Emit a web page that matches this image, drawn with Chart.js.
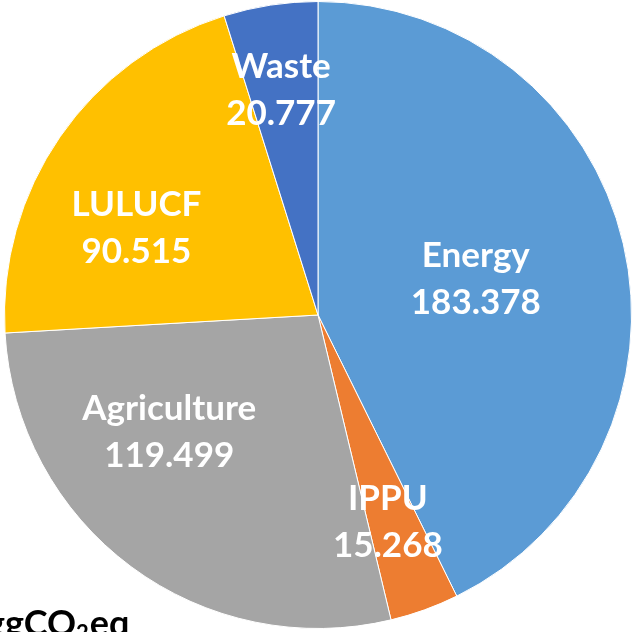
<!DOCTYPE html>
<html lang="en">
<head>
    <meta charset="UTF-8">
    <title>GHG emissions by sector</title>
    <script src="https://cdn.jsdelivr.net/npm/chart.js"></script>
    <style>
        html, body { margin: 0; padding: 0; background: #fff; overflow: hidden; }
        #wrap { position: relative; width: 635px; height: 632px; }
    </style>
</head>
<body>
    <div id="wrap"><canvas id="myChart" width="635" height="632"></canvas></div>

    <script>
        // Data (ggCO2eq)
        const sectors = ['Energy', 'IPPU', 'Agriculture', 'LULUCF', 'Waste'];
        const emissions = [183.378, 15.268, 119.499, 90.515, 20.777];
        const sliceColors = ['#5B9BD5', '#ED7D31', '#A5A5A5', '#FFC000', '#4472C4'];

        // where each label sits inside its slice: share of the slice angle, share of the radius
        const labelAngle = [0.50, 0.59, 0.654, 0.385, 0.466];
        const labelRadius = [0.517, 0.694, 0.602, 0.644, 0.729];

        const FONT = 'bold 35px Lato, "Open Sans", sans-serif';

        const sliceLabels = {
            id: 'sliceLabels',
            afterDatasetsDraw(chart) {
                const ctx = chart.ctx;
                const arcs = chart.getDatasetMeta(0).data;
                ctx.save();
                ctx.fillStyle = '#fff';
                ctx.font = FONT;
                ctx.textAlign = 'center';
                ctx.textBaseline = 'alphabetic';
                arcs.forEach((arc, i) => {
                    const a = arc.startAngle + (arc.endAngle - arc.startAngle) * labelAngle[i];
                    const r = arc.outerRadius * labelRadius[i];
                    const x = arc.x + Math.cos(a) * r;
                    const y = arc.y + Math.sin(a) * r;
                    ctx.fillText(sectors[i], x, y - 11);
                    ctx.fillText(emissions[i].toFixed(3), x, y + 36);
                });

                // unit caption, bottom left (partly off the page as in the original)
                ctx.fillStyle = '#000';
                ctx.textAlign = 'left';
                ctx.font = 'bold 36px Lato, "Open Sans", sans-serif';
                let x = -14;
                const base = 636;
                ctx.fillText('ggCO', x, base);
                x += ctx.measureText('ggCO').width;
                ctx.font = 'bold 22px Lato, "Open Sans", sans-serif';
                ctx.fillText('2', x, base + 5);
                x += ctx.measureText('2').width + 1;
                ctx.font = 'bold 36px Lato, "Open Sans", sans-serif';
                ctx.fillText('eq', x, base);
                ctx.restore();
            }
        };

        const ctx = document.getElementById('myChart').getContext('2d');
        const myChart = new Chart(ctx, {
            type: 'pie',
            data: {
                labels: sectors,
                datasets: [{
                    data: emissions,
                    backgroundColor: sliceColors,
                    borderColor: '#ffffff',
                    borderWidth: 1,
                    hoverOffset: 0
                }]
            },
            options: {
                responsive: false,
                animation: false,
                layout: { padding: { left: 4, top: 1, right: 3, bottom: 3 } },
                plugins: {
                    legend: { display: false },
                    tooltip: { enabled: false }
                }
            },
            plugins: [sliceLabels]
        });
    </script>
</body>
</html>
